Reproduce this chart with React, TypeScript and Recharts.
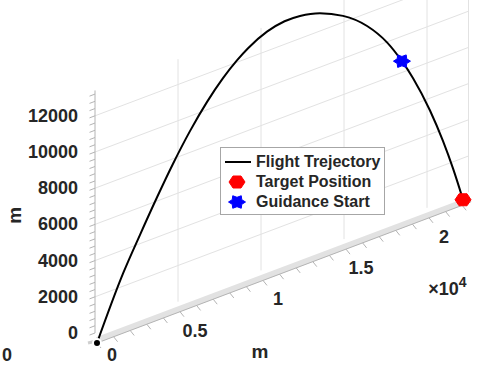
import { ComposedChart, Line, Scatter, XAxis, YAxis, ReferenceLine, ReferenceDot, Legend } from "recharts";

// trajectory (world coords, metres)
const downrange = [0, 1570, 2590, 3610, 4580, 5600, 6630, 7590, 8430, 9100, 10240, 11300, 12230, 13430, 14820, 16270, 17470, 18370, 19040, 20060, 20840, 21450, 21990, 22050];
const altitude = [0, 3300, 5080, 6790, 8320, 9770, 11030, 12010, 12700, 13140, 13660, 13870, 13840, 13580, 12950, 11890, 10570, 9220, 8050, 5910, 3960, 2220, 490, 290];

const targetX = [22050];
const targetZ = [290];
const guidanceX = [18370];
const guidanceZ = [9220];

const seriesNames = ["Flight Trejectory", "Target Position", "Guidance Start"];

const zTicks = [0, 2000, 4000, 6000, 8000, 10000, 12000];
const xTicks = [0, 5000, 10000, 15000, 20000];
const xTickLabels = ["0", "0.5", "1", "1.5", "2"];
const X_MAX = 22500;
const Z_MAX = 13400;

// view (3D projection onto the page)
const W = 479;
const H = 367;
const OX = 97;
const OY = 343;
const KX = 0.0166; // px per metre along downrange
const KZ = 0.0181; // px per metre of altitude
const SLOPE = 0.377; // downrange axis rises this much per px
const K = (SLOPE * KX) / KZ;
const BACK = { X: -2 / KX, Y: 10 / KZ };

const xDomain = [-OX / KX, (W - OX) / KX];
const yDomain = [-(H - OY) / KZ, OY / KZ];

const proj = (x: number, z: number, back = false) => ({
  X: x + (back ? BACK.X : 0),
  Y: z + K * x + (back ? BACK.Y : 0),
});
const shift = (p: { X: number; Y: number }, dx: number, dy: number) => ({ X: p.X + dx / KX, Y: p.Y - dy / KZ });

const trajectory = downrange.map((x, i) => proj(x, altitude[i]));
const targetData = targetX.map((x, i) => proj(x, targetZ[i]));
const guidanceData = guidanceX.map((x, i) => proj(x, guidanceZ[i]));

const FONT = '"Liberation Sans", Arial, Helvetica, sans-serif';
const TEXT = "#262626";
const GRID = "#e2e2e2";
const AXIS = "#b4b4b4";

const hexPoints = (cx: number, cy: number) =>
  [[-8, 0], [-4, -6], [4, -6], [8, 0], [4, 6], [-4, 6]].map(([a, b]) => `${cx + a},${cy + b}`).join(" ");

const starPoints = (cx: number, cy: number) => {
  const pts: string[] = [];
  for (let i = 0; i < 12; i++) {
    const r = i % 2 === 0 ? 8.5 : 5.5;
    const a = (i * Math.PI) / 6;
    pts.push(`${cx + r * Math.cos(a)},${cy - r * Math.sin(a) * 0.85}`);
  }
  return pts.join(" ");
};

const Hex = (props: any) => <polygon points={hexPoints(props.cx, props.cy)} fill="#ff0000" stroke="#ff0000" strokeWidth={1} />;
const Star = (props: any) => <polygon points={starPoints(props.cx, props.cy)} fill="#0000ff" stroke="#0000ff" strokeWidth={1} />;

const seg = (a: { X: number; Y: number }, b: { X: number; Y: number }) => [
  { x: a.X, y: a.Y },
  { x: b.X, y: b.Y },
];

function txt(key: string, p: { X: number; Y: number }, dx: number, dy: number, content: any, extra: any = {}, rotate = 0) {
  return (
    <ReferenceDot
      key={key}
      x={p.X}
      y={p.Y}
      r={0}
      ifOverflow="visible"
      shape={(s: any) => (
        <text
          x={s.cx + dx}
          y={s.cy + dy}
          fill={TEXT}
          fontFamily={FONT}
          fontWeight="bold"
          fontSize={18}
          dominantBaseline="central"
          textAnchor="middle"
          transform={rotate ? `rotate(${rotate}, ${s.cx + dx}, ${s.cy + dy})` : undefined}
          {...extra}
        >
          {content}
        </text>
      )}
    />
  );
}

function LegendBox() {
  return (
    <div style={{ border: "1px solid #a6a6a6", background: "#fff", padding: "4px 4px 2px 3px", fontFamily: FONT, fontWeight: "bold", fontSize: 16, color: TEXT }}>
      {seriesNames.map((name, i) => (
        <div key={name} style={{ display: "flex", alignItems: "center", height: 20, whiteSpace: "nowrap" }}>
          <svg width={29} height={16} style={{ marginRight: 3 }}>
            {i === 0 && <line x1={1} y1={8} x2={27} y2={8} stroke="#000" strokeWidth={2} />}
            {i === 1 && <Hex cx={13} cy={8} />}
            {i === 2 && <Star cx={13} cy={8} />}
          </svg>
          {name}
        </div>
      ))}
    </div>
  );
}

const minorZ: number[] = [];
for (let z = 0; z <= 13200; z += 400) minorZ.push(z);
const minorX: number[] = [];
for (let x = 0; x <= 22000; x += 1000) minorX.push(x);

export default function App() {
  return (
    <div style={{ position: "absolute", left: 0, top: 0, width: W, height: H, background: "#fff" }}>
      <ComposedChart width={W} height={H} data={trajectory} margin={{ top: 0, right: 0, bottom: 0, left: 0 }}>
        <XAxis type="number" dataKey="X" domain={xDomain} allowDataOverflow hide />
        <YAxis type="number" domain={yDomain} allowDataOverflow hide />

        {/* back wall grid */}
        {zTicks.slice(1).map((z) => (
          <ReferenceLine key={`gz${z}`} segment={seg(proj(0, z, true), proj(X_MAX, z, true))} stroke={GRID} strokeWidth={1} ifOverflow="visible" />
        ))}
        {[...xTicks.slice(1), X_MAX].map((x) => (
          <ReferenceLine key={`gx${x}`} segment={seg(proj(x, 0, true), proj(x, Z_MAX, true))} stroke={GRID} strokeWidth={1} ifOverflow="visible" />
        ))}

        {/* floor band + downrange axis */}
        <ReferenceLine segment={seg(shift(proj(0, 0), 0, -3), shift(proj(X_MAX, 0), 0, -3))} stroke="#e2e2e2" strokeWidth={6} ifOverflow="visible" />
        <ReferenceLine segment={seg(proj(0, 0), proj(X_MAX, 0))} stroke={AXIS} strokeWidth={1} ifOverflow="visible" />
        {minorX.map((x) => (
          <ReferenceLine key={`tx${x}`} segment={seg(proj(x, 0), shift(proj(x, 0), 4, 5))} stroke={AXIS} strokeWidth={1} ifOverflow="visible" />
        ))}

        {/* altitude axis */}
        <ReferenceLine segment={seg(proj(0, 0, true), proj(0, Z_MAX, true))} stroke={AXIS} strokeWidth={1} ifOverflow="visible" />
        {minorZ.map((z) => (
          <ReferenceLine key={`tz${z}`} segment={seg(proj(0, z, true), proj(-330, z, true))} stroke={AXIS} strokeWidth={1} ifOverflow="visible" />
        ))}
        <ReferenceLine segment={seg(shift(proj(0, 0), -9, 0), shift(proj(0, 0), -1, -2))} stroke="#cfcfcf" strokeWidth={3} ifOverflow="visible" />

        {zTicks.map((z) => txt(`lz${z}`, proj(0, z, true), -17, 0, String(z), { textAnchor: "end" }))}
        {xTicks.map((x, i) => txt(`lx${x}`, proj(x, 0), 15, i === 0 ? 12 : 19, xTickLabels[i]))}
        {txt("ly0", proj(0, 0), -90, 12, "0")}
        {txt("xt", proj(10000, 0), -3, 71, "m", { fontSize: 19 })}
        {txt("zt", proj(0, 6000, true), -80, -9, "m", { fontSize: 19 }, -90)}
        {txt("mul", proj(22000, 0), -34, 84, <>
          ×10<tspan dy={-7} fontSize={14}>4</tspan>
        </>, { textAnchor: "start" })}

        <Line name={seriesNames[0]} dataKey="Y" type="monotone" stroke="#000" strokeWidth={2} dot={false} isAnimationActive={false} />
        <Scatter name={seriesNames[1]} data={targetData} dataKey="Y" shape={Hex} isAnimationActive={false} />
        <Scatter name={seriesNames[2]} data={guidanceData} dataKey="Y" shape={Star} isAnimationActive={false} />

        <Legend layout="vertical" align="center" verticalAlign="middle" content={() => <LegendBox />} wrapperStyle={{ left: 220, top: 147, width: "auto", height: "auto" }} />
      </ComposedChart>
    </div>
  );
}
